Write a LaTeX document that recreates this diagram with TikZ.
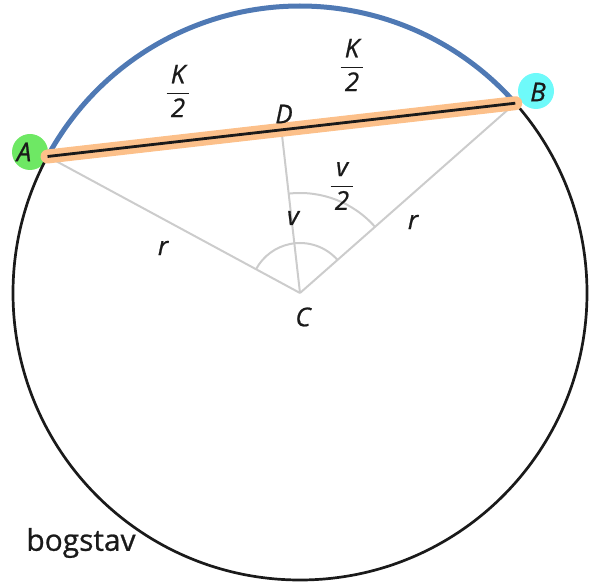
\documentclass[tikz,border=0pt]{standalone}
\usepackage{amsmath}
\usepackage{fontspec}
\setmainfont{Open Sans}[FakeBold=0.8]
\usetikzlibrary{calc}
\definecolor{arcblue}{HTML}{4F79B4}
\definecolor{band}{HTML}{FCC08A}
\definecolor{hlgreen}{HTML}{6EE864}
\definecolor{hlcyan}{HTML}{6EFAFA}
\definecolor{ink}{HTML}{1A1A1A}
\definecolor{helpgray}{HTML}{CCCCCC}
\newcommand{\halvbrok}[2]{$\dfrac{\,\textit{#1}\,}{\,\textit{#2}\,}$}
\tikzset{tekst/.style={font=\fontsize{26}{30}\selectfont\itshape,text=ink,inner sep=0pt},
  blob/.style={circle,minimum size=36bp,inner sep=0pt},
  helpline/.style={draw=helpgray,line width=2bp}}

\begin{document}
\begin{tikzpicture}[x=1bp,y=1bp]
\useasboundingbox (0,0) rectangle (594,583);
\coordinate (C) at (300,290);
\coordinate (A) at ($(C)+(151.6:287)$);
\coordinate (B) at ($(C)+(41.4:287)$);
\coordinate (D) at ($(A)!0.5!(B)$);
% markeringer
\node[blob,fill=hlgreen] (hA) at (30,431) {};
\node[blob,fill=hlcyan] (hB) at (536,492) {};
% cirkel og bue
\draw[line width=2.7bp,ink] (C) circle[radius=287];
\draw[line width=5bp,arcblue] (B) arc[start angle=41.4,end angle=151.6,radius=287];
% hjaelpelinjer
\draw[helpline] (C)--(A);
\draw[helpline] (C)--(B);
\draw[helpline] (C)--(D);
\draw[helpline] ($(C)+(41.4:50)$) arc[start angle=41.4,end angle=151.6,radius=50];
\draw[helpline] ($(C)+(41.4:100)$) arc[start angle=41.4,end angle=96.2,radius=100];
% korde
\draw[line width=14bp,band,line cap=round] (A)--(B);
\draw[line width=2.8bp,ink] (A)--(B);
% tekster
\node[tekst] (lA) at (24,431) {A};
\node[tekst] (lB) at (538,491) {B};
\node[tekst] (lD) at (284,469) {D};
\node[tekst] (lC) at (303,266) {C};
\node[tekst] (lv) at (293,365) {v};
\node[tekst] (lr1) at (163,335) {r};
\node[tekst] (lr2) at (413,361) {r};
\node[tekst] (k1) at (178,492) {\halvbrok{K}{2}};
\node[tekst] (k2) at (352,518) {\halvbrok{K}{2}};
\node[tekst] (v2) at (342,397) {\halvbrok{v}{2}};
\node[font=\fontsize{30}{34}\selectfont,text=ink] (bs) at (81,40) {bogstav};
\end{tikzpicture}
\end{document}
